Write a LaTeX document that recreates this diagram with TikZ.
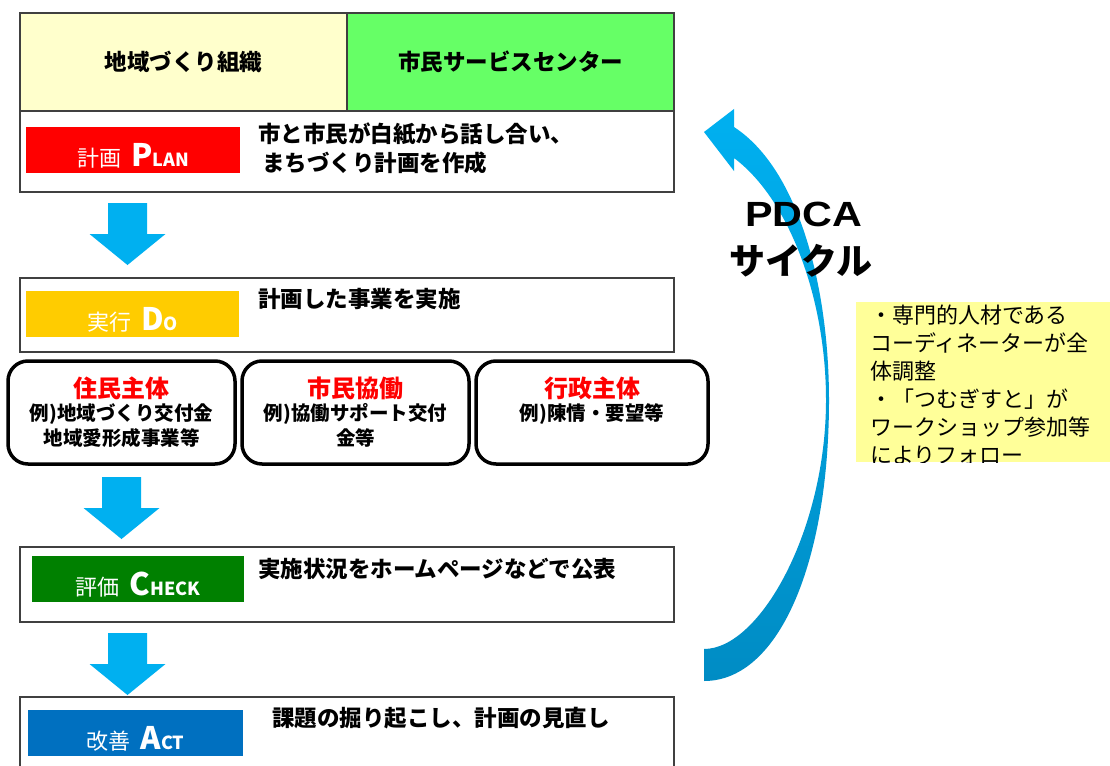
\documentclass[tikz,border=0pt]{standalone}
\usepackage{fontspec}
\setmainfont{Noto Sans CJK JP}
\newfontfamily\latinbold{Liberation Sans}
\usetikzlibrary{calc}
\definecolor{hdrY}{HTML}{FFFFCC}
\definecolor{hdrG}{HTML}{66FF66}
\definecolor{arrowblue}{HTML}{00B0F0}
\definecolor{lblred}{HTML}{FF0000}
\definecolor{lblgold}{HTML}{FFCC00}
\definecolor{lblgreen}{HTML}{008000}
\definecolor{lblblue}{HTML}{0070C0}
\definecolor{noteY}{HTML}{FFFF99}
\definecolor{cycTop}{HTML}{00B0F0}
\definecolor{cycMid}{HTML}{5CC8F2}
\definecolor{cycBot}{HTML}{008CC4}
\definecolor{edge}{HTML}{404040}
\newcommand{\fs}[1]{\fontsize{#1}{#1}\selectfont}
\begin{document}
\begin{tikzpicture}[x=1pt,y=-1pt,
  every node/.style={inner sep=0pt, outer sep=0pt},
  frame/.style={draw=edge, line width=1.5pt, anchor=north west},
  lbl/.style={anchor=north west, minimum height=46pt},
  lbltxt/.style={anchor=base, text=white, font=\fs{22}},
  desc/.style={anchor=west, font=\fs{22.5}\bfseries, text=black},
  hdr/.style={font=\fs{22.5}\bfseries},
  rbox/.style={draw=black, line width=3.5pt, rounded corners=20pt, fill=white, anchor=north west, minimum width=227pt, minimum height=103pt},
  rtitle/.style={font=\fs{24}\bfseries, text=lblred},
  rline/.style={font=\fs{19.5}\bfseries},
  notebox/.style={fill=noteY, anchor=north west, minimum width=254pt, minimum height=160pt},
  noteline/.style={anchor=base west, font=\fs{22}},
  barrow/.pic={\fill[arrowblue] (-19.5,0) -- (19.5,0) -- (19.5,31) -- (38,31) -- (0,62) -- (-38,31) -- (-19.5,31) -- cycle;}
]
\clip (0,0) rectangle (1110,765);
\fill[white] (0,0) rectangle (1110,765);

% top header
\node[frame, fill=hdrY, minimum width=327pt, minimum height=98pt] (hleft) at (20,13) {};
\node[frame, fill=hdrG, minimum width=327pt, minimum height=98pt] (hright) at (347,13) {};
\node[hdr] at (hleft.center) {地域づくり組織};
\node[hdr] at (hright.center) {市民サービスセンター};

% plan
\node[frame, fill=white, minimum width=654pt, minimum height=81pt] (planbox) at (20,111) {};
\node[lbl, fill=lblred, minimum width=214pt] (planlbl) at (26,127) {};
\node[lbltxt] (plantxt) at ($(planlbl.north)+(0,39)$) {計画\hspace{10pt}{\fs{31}\bfseries P}{\fs{18}\bfseries LAN}};
\node[desc] (plan1) at (258,134) {市と市民が白紙から話し合い、};
\node[desc] (plan2) at (262,163) {まちづくり計画を作成};

\pic at ($(planbox.south west)+(107.5,11)$) {barrow};

% do
\node[frame, fill=white, minimum width=654pt, minimum height=74pt] (dobox) at (20,278) {};
\node[lbl, fill=lblgold, minimum width=213pt] (dolbl) at (26,291) {};
\node[lbltxt] (dotxt) at ($(dolbl.north)+(0,39)$) {実行\hspace{10pt}{\fs{31}\bfseries D}{\fs{18}\bfseries O}};
\node[desc] (do1) at (258,299) {計画した事業を実施};

% round boxes
\node[rbox] (r1) at (8,361) {};
\node[rbox] (r2) at (242,361) {};
\node[rbox, minimum width=232pt] (r3) at (476,361) {};
\node[rtitle] at ($(r1.north)+(0,27)$) {住民主体};
\node[rline] at ($(r1.north)+(0,53)$) {例)地域づくり交付金};
\node[rline] at ($(r1.north)+(0,77)$) {地域愛形成事業等};
\node[rtitle] at ($(r2.north)+(0,27)$) {市民協働};
\node[rline] at ($(r2.north)+(0,53)$) {例)協働サポート交付};
\node[rline] at ($(r2.north)+(0,77)$) {金等};
\node[rtitle] at ($(r3.north)+(0,27)$) {行政主体};
\node[rline] at ($(r3.north)+(0,53)$) {例)陳情・要望等};

\pic at ($(r1.south)+(0,13)$) {barrow};

% check
\node[frame, fill=white, minimum width=654pt, minimum height=75pt] (chkbox) at (20,547) {};
\node[lbl, fill=lblgreen, minimum width=212pt] (chklbl) at (32,556) {};
\node[lbltxt] (chktxt) at ($(chklbl.north)+(0,39)$) {評価\hspace{10pt}{\fs{31}\bfseries C}{\fs{18}\bfseries HECK}};
\node[desc] (chk1) at (258,569) {実施状況をホームページなどで公表};

\pic at ($(chkbox.south west)+(107.5,11)$) {barrow};

% act
\node[frame, fill=white, minimum width=654pt, minimum height=90pt] (actbox) at (20,697) {};
\node[lbl, fill=lblblue, minimum width=215pt] (actlbl) at (28,710) {};
\node[lbltxt] (acttxt) at ($(actlbl.north)+(0,39)$) {改善\hspace{10pt}{\fs{31}\bfseries A}{\fs{18}\bfseries CT}};
\node[desc] (act1) at (272,718) {課題の掘り起こし、計画の見直し};

% PDCA cycle arrow
\shade[top color=cycTop, middle color=cycMid, bottom color=cycBot]
  (704,681) .. controls (780,681) and (829,560) .. (829,400)
  .. controls (829,290) and (800,170) .. (734,127)
  -- (734,109) -- (704,132) -- (734,171) -- (734,158)
  .. controls (790,200) and (826,300) .. (826,400)
  .. controls (826,530) and (760,649) .. (704,649) -- cycle;
\node[font=\latinbold\fs{35}\bfseries, xscale=1.18] (pdca) at (803.5,214.5) {PDCA};
\node[font=\fs{36}\bfseries] (cyc) at (801,261) {サイクル};

% note
\node[notebox] (note) at (856,302) {};
\begin{scope}
\clip (note.north west) rectangle (note.south east);
\node[noteline] (n1) at (870,323) {・専門的人材である};
\node[noteline] (n2) at (870,351) {コーディネーターが全};
\node[noteline] (n3) at (870,379) {体調整};
\node[noteline] (n4) at (870,407) {・「つむぎすと」が};
\node[noteline] (n5) at (870,435) {ワークショップ参加等};
\node[noteline] (n6) at (870,463) {によりフォロー};
\end{scope}
\end{tikzpicture}
\end{document}
